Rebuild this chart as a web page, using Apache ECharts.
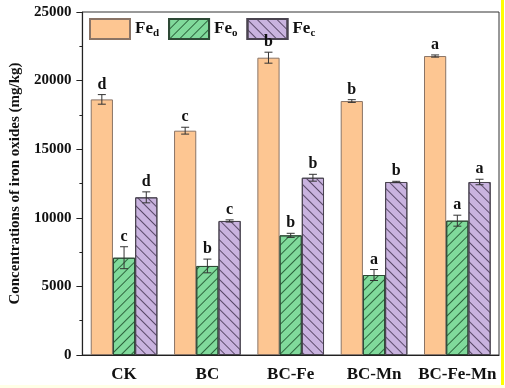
<!DOCTYPE html>
<html>
<head>
<meta charset="utf-8">
<script src="https://cdn.jsdelivr.net/npm/echarts@6/dist/echarts.min.js"></script>
<style>html,body{margin:0;padding:0;background:#fff;}#c{width:505px;height:388px;}</style>
</head>
<body>
<div id="c"></div>
<script>
const categories = ['CK', 'BC', 'BC-Fe', 'BC-Mn', 'BC-Fe-Mn'];
const seriesNames = ['Fed', 'Feo', 'Fec'];
const subs = { Fed: 'd', Feo: 'o', Fec: 'c' };
const feD = [18630, 16350, 21670, 18510, 21790];
const feDErr = [350, 250, 400, 100, 80];
const feDLetters = ['d', 'c', 'b', 'b', 'a'];
const feO = [7090, 6490, 8720, 5830, 9790];
const feOErr = [800, 500, 150, 400, 400];
const feOLetters = ['c', 'b', 'b', 'a', 'a'];
const feC = [11490, 9770, 12920, 12610, 12610];
const feCErr = [400, 80, 250, 50, 200];
const feCLetters = ['d', 'c', 'b', 'b', 'a'];
const yTicks = { min: 0, max: 25000, interval: 5000 };

const FONT = 'Liberation Serif';
const chart = echarts.init(document.getElementById('c'), null, { renderer: 'canvas' });

function errSeries(idx, vals, errs, letters) {
  return {
    type: 'custom',
    xAxisIndex: 0,
    z: 10,
    silent: true,
    data: vals.map((v, i) => [i, v, errs[i]]),
    encode: { x: 0, y: 1 },
    renderItem: function (params, api) {
      const i = api.value(0), v = api.value(1), e = api.value(2);
      const c = api.coord([i, v]);
      const bw = api.size([1, 0])[0] * 0.8 / 3;
      const x = c[0] + (idx - 1) * bw;
      const top = api.coord([i, v + e])[1];
      const bot = api.coord([i, v - e])[1];
      const st = { stroke: '#333', lineWidth: 1 };
      const cap = 4;
      return {
        type: 'group',
        children: [
          { type: 'line', shape: { x1: x, y1: top, x2: x, y2: bot }, style: st },
          { type: 'line', shape: { x1: x - cap, y1: top, x2: x + cap, y2: top }, style: st },
          { type: 'line', shape: { x1: x - cap, y1: bot, x2: x + cap, y2: bot }, style: st },
          { type: 'text', x: x, y: top - 2, style: { text: letters[params.dataIndex], fill: '#111', font: 'bold 16px "' + FONT + '"', align: 'center', verticalAlign: 'bottom' } }
        ]
      };
    }
  };
}

const option = {
  backgroundColor: '#fff',
  animation: false,
  grid: { left: 74, right: 6, top: 12, bottom: 33, show: true, borderColor: '#333', borderWidth: 1, backgroundColor: 'transparent' },
  legend: {
    left: 84, top: 13, itemWidth: 40, itemHeight: 20, itemGap: 9,
    icon: 'rect',
    data: seriesNames,
    formatter: n => 'Fe{s|' + subs[n] + '}',
    textStyle: {
      fontFamily: FONT, fontWeight: 'bold', fontSize: 17, color: '#111',
      rich: { s: { fontFamily: FONT, fontWeight: 'bold', fontSize: 11, color: '#111', padding: [9, 0, 0, 0] } }
    }
  },
  xAxis: [
    {
      type: 'category', data: categories,
      axisLine: { lineStyle: { color: '#222', width: 1.2 } },
      axisTick: { alignWithLabel: true, length: 5, lineStyle: { color: '#222' } },
      axisLabel: { interval: 0, fontFamily: FONT, fontWeight: 'bold', fontSize: 17, color: '#111', margin: 11 }
    },
    {
      type: 'category', data: categories, position: 'bottom',
      axisLine: { show: false },
      axisTick: { interval: 0, length: 5, lineStyle: { color: '#222' } },
      axisLabel: { show: false }
    }
  ],
  yAxis: {
    type: 'value', min: yTicks.min, max: yTicks.max, interval: yTicks.interval,
    name: 'Concentrations of iron oxides (mg/kg)', nameLocation: 'middle', nameGap: 57,
    nameTextStyle: { fontFamily: FONT, fontWeight: 'bold', fontSize: 15, color: '#111' },
    axisLine: { show: true, lineStyle: { color: '#222', width: 1.2 } },
    axisTick: { show: true, length: 6, lineStyle: { color: '#222' } },
    minorTick: { show: true, splitNumber: 2, length: 3, lineStyle: { color: '#222' } },
    splitLine: { show: false },
    axisLabel: { fontFamily: FONT, fontWeight: 'bold', fontSize: 15, color: '#111', margin: 11, formatter: v => String(v) }
  },
  series: [
    {
      name: 'Fed', type: 'bar', data: feD, barGap: '0%', barCategoryGap: '20%',
      itemStyle: { color: '#FDC692', borderColor: '#8a7466', borderWidth: 1 }
    },
    {
      name: 'Feo', type: 'bar', data: feO, barGap: '0%', barCategoryGap: '20%',
      itemStyle: {
        color: '#80DA9B', borderColor: '#2e4a36', borderWidth: 1,
        decal: { symbol: 'rect', symbolSize: 1, dashArrayX: [1, 0], dashArrayY: [1, 6], rotation: -Math.PI / 4, color: 'rgba(30,80,45,0.85)' }
      }
    },
    {
      name: 'Fec', type: 'bar', data: feC, barGap: '0%', barCategoryGap: '20%',
      itemStyle: {
        color: '#C9B3DF', borderColor: '#4a4450', borderWidth: 1,
        decal: { symbol: 'rect', symbolSize: 1, dashArrayX: [1, 0], dashArrayY: [1, 6], rotation: Math.PI / 4, color: 'rgba(70,55,85,0.85)' }
      }
    },
    errSeries(0, feD, feDErr, feDLetters),
    errSeries(1, feO, feOErr, feOLetters),
    errSeries(2, feC, feCErr, feCLetters)
  ],
  graphic: [
    { type: 'rect', left: 501, top: 0, shape: { width: 3, height: 385 }, style: { fill: '#FFFF00' }, silent: true },
    { type: 'rect', left: 0, top: 385, shape: { width: 505, height: 3 }, style: { fill: '#FFFFE6' }, silent: true }
  ]
};
chart.setOption(option);
</script>
</body>
</html>
